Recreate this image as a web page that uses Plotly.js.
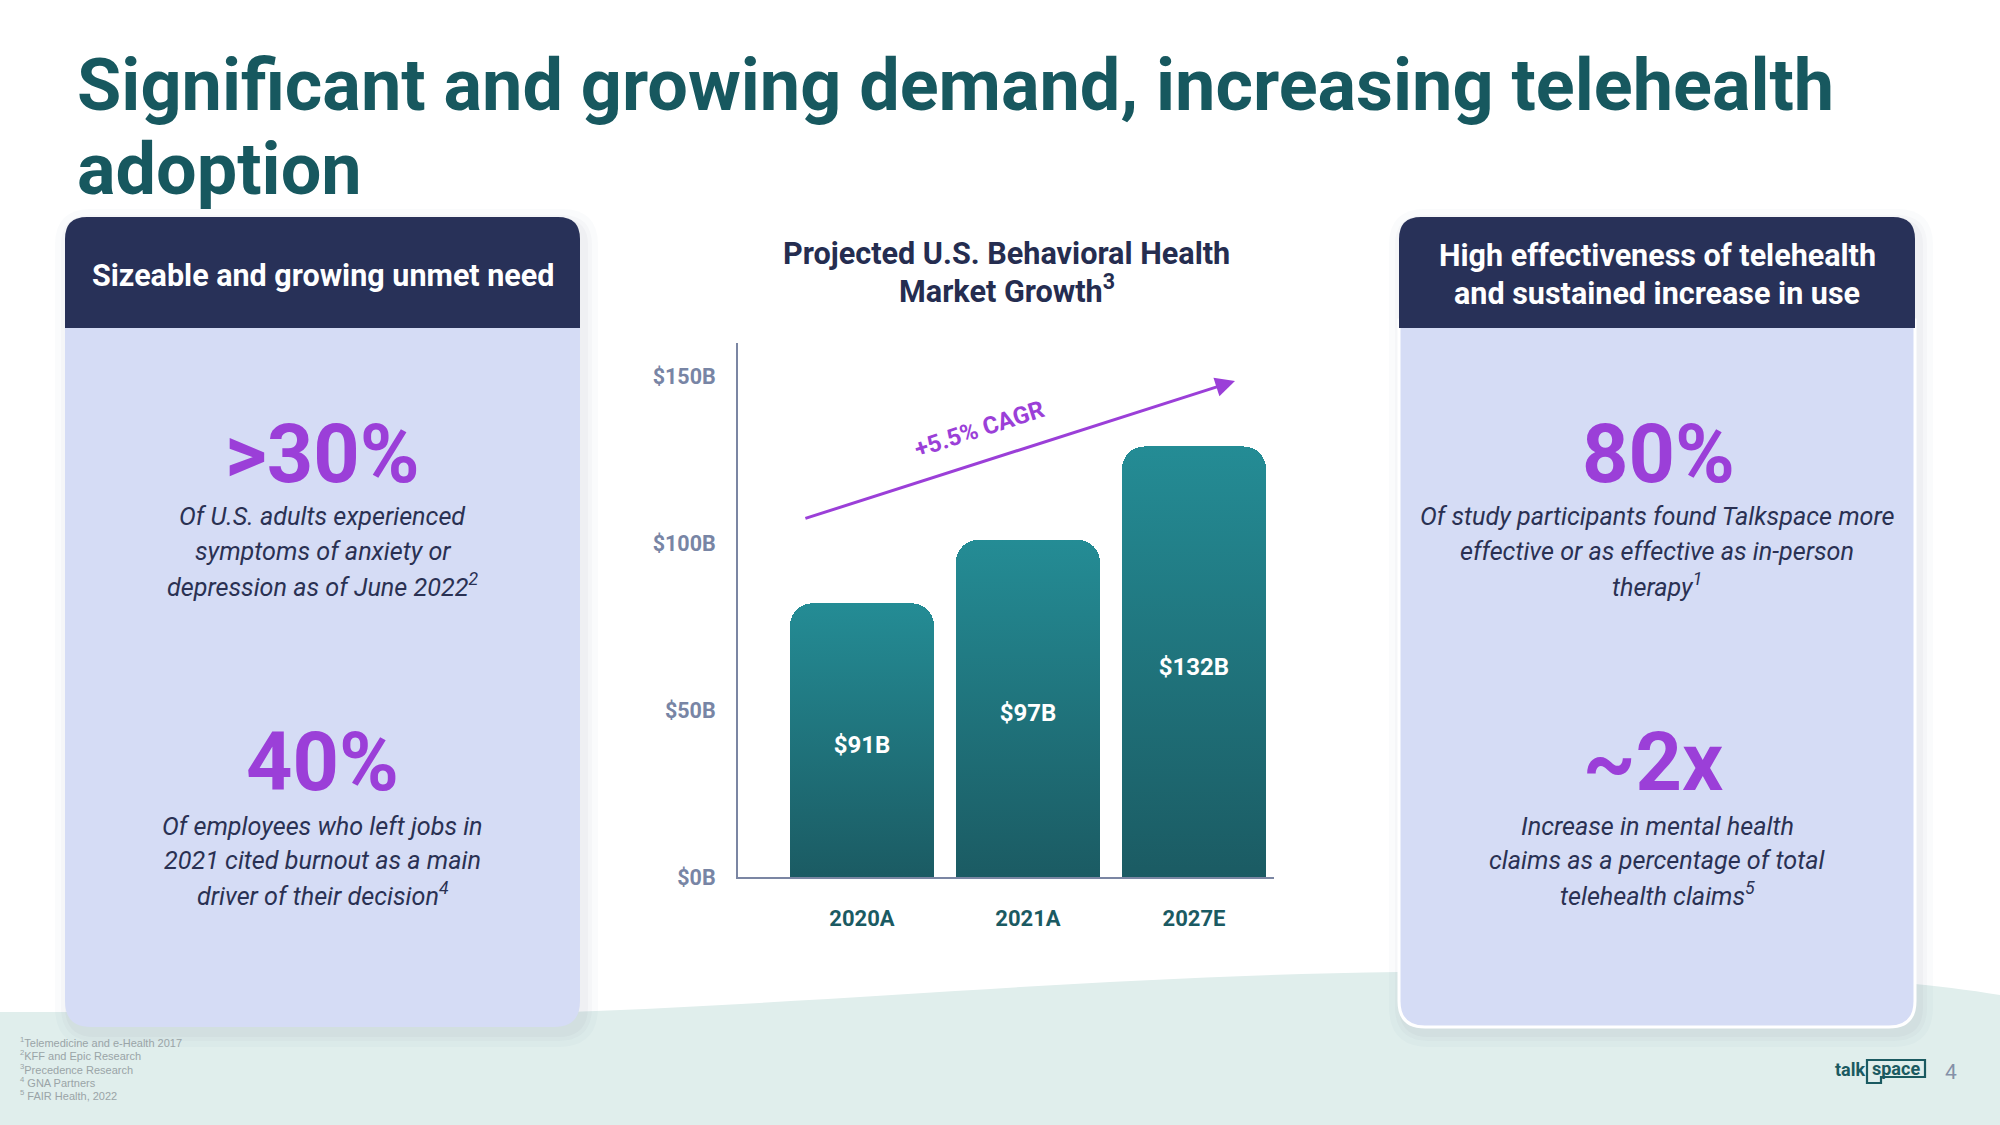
<!DOCTYPE html>
<html>
<head>
<meta charset="utf-8">
<script src="https://cdn.plot.ly/plotly-3.0.1.min.js"></script>
<style>
  html, body { margin: 0; padding: 0; background: #ffffff; }
  #chart { width: 2000px; height: 1125px; }
</style>
</head>
<body>
<div id="chart"></div>
<script>
// ---------------- DATA ----------------
const categories = ['2020A', '2021A', '2027E'];
const barValues = [82, 101, 129];            // bar heights as drawn against the axis
const barLabels = ['$91B', '$97B', '$132B'];  // printed values
const yTickVals = [0, 50, 100, 150];
const yTickText = ['$0B', '$50B', '$100B', '$150B'];
const cagrLabel = '+5.5% CAGR';

const pageTitle = ['Significant and growing demand, increasing telehealth', 'adoption'];
const chartTitle = ['Projected U.S. Behavioral Health', 'Market Growth<sup>3</sup>'];

const leftHeader = ['Sizeable and growing unmet need'];
const leftStats = ['&gt;30%', '40%'];
const leftDescs = [
  ['Of U.S. adults experienced', 'symptoms of anxiety or', 'depression as of June 2022<sup>2</sup>'],
  ['Of employees who left jobs in', '2021 cited burnout as a main', 'driver of their decision<sup>4</sup>']
];
const rightHeader = ['High effectiveness of telehealth', 'and sustained increase in use'];
const rightStats = ['80%', '~2x'];
const rightDescs = [
  ['Of study participants found Talkspace more', 'effective or as effective as in-person', 'therapy<sup>1</sup>'],
  ['Increase in mental health', 'claims as a percentage of total', 'telehealth claims<sup>5</sup>']
];
const footnotes = [
  '<sup>1</sup>Telemedicine and e-Health 2017',
  '<sup>2</sup>KFF and Epic Research',
  '<sup>3</sup>Precedence Research',
  '<sup>4</sup> GNA Partners',
  '<sup>5</sup> FAIR Health, 2022'
];
const pageNumber = '4';

// ---------------- HELPERS ----------------
const W = 2000, H = 1125;
const px = x => x / W;
const py = y => 1 - y / H;
const FONT = 'Roboto, "Open Sans", sans-serif';
const TEAL = '#17585F';
const NAVY = '#283158';
const PURPLE = '#9B3FD8';
const BODY = '#D5DCF5';
const DESC = '#2A3153';

function rrPath(x0, y0, x1, y1, rt, rb) {
  const p = [];
  p.push('M' + px(x0) + ',' + py(y0 + rt));
  p.push('Q' + px(x0) + ',' + py(y0) + ' ' + px(x0 + rt) + ',' + py(y0));
  p.push('L' + px(x1 - rt) + ',' + py(y0));
  p.push('Q' + px(x1) + ',' + py(y0) + ' ' + px(x1) + ',' + py(y0 + rt));
  p.push('L' + px(x1) + ',' + py(y1 - rb));
  p.push('Q' + px(x1) + ',' + py(y1) + ' ' + px(x1 - rb) + ',' + py(y1));
  p.push('L' + px(x0 + rb) + ',' + py(y1));
  p.push('Q' + px(x0) + ',' + py(y1) + ' ' + px(x0) + ',' + py(y1 - rb));
  p.push('Z');
  return p.join(' ');
}
function pathFromPts(cmds) {
  return cmds.map(c => {
    const L = c[0];
    const nums = [];
    for (let i = 1; i < c.length; i += 2) nums.push(px(c[i]) + ',' + py(c[i + 1]));
    return L + nums.join(' ');
  }).join(' ') + ' Z';
}

const shapes = [];
const annotations = [];

function txt(text, x, y, size, color, opts) {
  opts = opts || {};
  annotations.push({
    xref: 'paper', yref: 'paper', x: px(x), y: py(y),
    xanchor: opts.xanchor || 'center', yanchor: 'middle',
    text: text, showarrow: false,
    font: { family: opts.family || FONT, size: size, color: color,
            weight: opts.weight || 'normal', style: opts.style || 'normal' },
    align: opts.xanchor === 'left' ? 'left' : 'center'
  });
}

// ---------- background wave ----------
shapes.push({
  type: 'path', xref: 'paper', yref: 'paper', layer: 'below',
  path: pathFromPts([
    ['M', 0, 1012], ['L', 570, 1012],
    ['C', 880, 1000, 1100, 976, 1400, 972],
    ['C', 1650, 968, 1860, 972, 2000, 995],
    ['L', 2000, 1125], ['L', 0, 1125]
  ]),
  fillcolor: '#E0EEEC', line: { width: 0 }
});

// ---------- cards ----------
function card(x0, x1, border) {
  [[14, 0.022], [8, 0.028], [4, 0.032]].forEach(s => {
    shapes.push({ type: 'path', xref: 'paper', yref: 'paper', layer: 'below',
      path: rrPath(x0 - s[0] + 4, 217 - s[0] + 6, x1 + s[0] + 4, 1027 + s[0] + 6, 22 + s[0], 26 + s[0]),
      fillcolor: 'rgba(60,70,110,' + s[1] + ')', line: { width: 0 } });
  });
  shapes.push({ type: 'path', xref: 'paper', yref: 'paper', layer: 'below',
    path: rrPath(x0, 320, x1, 1027, 0, 26),
    fillcolor: BODY, line: border ? { color: '#FFFFFF', width: 3 } : { width: 0 } });
  shapes.push({ type: 'path', xref: 'paper', yref: 'paper', layer: 'below',
    path: rrPath(x0, 217, x1, 328, 22, 0),
    fillcolor: NAVY, line: { width: 0 } });
}
card(65, 580, false);
card(1399, 1915, true);

// ---------- page title ----------
txt(pageTitle[0], 75, 86, 72, TEAL, { xanchor: 'left', weight: 'bold' });
txt(pageTitle[1], 75, 169, 72, TEAL, { xanchor: 'left', weight: 'bold' });

// ---------- card text ----------
const LCX = 322.5, RCX = 1657;
txt(leftHeader[0], LCX, 275, 30.5, '#FFFFFF', { weight: 'bold' });
txt(rightHeader[0], RCX, 256, 30.5, '#FFFFFF', { weight: 'bold' });
txt(rightHeader[1], RCX, 293, 30.5, '#FFFFFF', { weight: 'bold' });

const statY = [455, 762];
const rightStatX = [RCX + 1, RCX - 4];
const descY = [[517, 551, 585], [826, 860, 894]];
[0, 1].forEach(i => {
  txt(leftStats[i], LCX, statY[i], 81, PURPLE, { weight: 'bold' });
  txt(rightStats[i], rightStatX[i], statY[i], 81, PURPLE, { weight: 'bold' });
  leftDescs[i].forEach((l, j) => txt(l, LCX, descY[i][j], 25.2, DESC, { style: 'italic' }));
  rightDescs[i].forEach((l, j) => txt(l, RCX, descY[i][j], 25.2, DESC, { style: 'italic' }));
});

// ---------- chart title ----------
txt(chartTitle[0], 1007, 253, 30.6, '#252D50', { weight: 'bold' });
txt(chartTitle[1], 1007, 289, 30.6, '#252D50', { weight: 'bold' });

// ---------- CAGR arrow + label (data coords) ----------
annotations.push({
  xref: 'x', yref: 'y', axref: 'x', ayref: 'y',
  x: 2.247, y: 148.6, ax: -0.35, ay: 107.3,
  text: '', showarrow: true, arrowhead: 2, arrowsize: 1.3, arrowwidth: 3,
  arrowcolor: PURPLE, standoff: 0, startstandoff: 0
});
annotations.push({
  xref: 'x', yref: 'y', x: 0.71, y: 134.3, text: cagrLabel, showarrow: false,
  textangle: -18, xanchor: 'center', yanchor: 'middle',
  font: { family: FONT, size: 24, color: PURPLE, weight: 'bold' }
});

// ---------- footnotes ----------
const fnY = [1042, 1055, 1068.5, 1082, 1095];
footnotes.forEach((f, i) => txt(f, 18, fnY[i], 11, '#9AA4A7',
  { xanchor: 'left', family: '"Liberation Sans", Arial, sans-serif' }));

// ---------- logo + page number ----------
shapes.push({ type: 'path', xref: 'paper', yref: 'paper', layer: 'above',
  path: pathFromPts([['M', 1867, 1060], ['L', 1925, 1060], ['L', 1925, 1077], ['L', 1881, 1077], ['L', 1881, 1083], ['L', 1867, 1083]]),
  fillcolor: 'rgba(0,0,0,0)', line: { color: '#1B5A61', width: 2.2 } });
txt('talk', 1867, 1069, 18, '#1B5A61', { xanchor: 'right', weight: 'bold' });
txt('space', 1896, 1068, 18, '#1B5A61', { weight: 'bold' });
txt(pageNumber, 1951, 1072, 21, '#8590A8');

// ---------------- TRACE ----------------
const data = [{
  type: 'bar', x: categories, y: barValues, text: barLabels,
  textposition: 'inside', insidetextanchor: 'middle', constraintext: 'none',
  textfont: { family: FONT, size: 24, color: '#FFFFFF', weight: 'bold' },
  width: 0.867,
  marker: { color: '#1F747C', cornerradius: 22, line: { width: 0 } },
  hoverinfo: 'skip'
}];

const layout = {
  width: W, height: H,
  margin: { l: 0, r: 0, t: 0, b: 0 },
  paper_bgcolor: '#FFFFFF', plot_bgcolor: 'rgba(0,0,0,0)',
  showlegend: false, bargap: 0,
  xaxis: {
    domain: [px(738), px(1274)], type: 'category', range: [-0.747, 2.482],
    showline: true, linecolor: '#7B86A3', linewidth: 2, ticks: '',
    ticklabelstandoff: 21, showgrid: false, zeroline: false, fixedrange: true,
    tickfont: { family: FONT, size: 22, color: '#1B5A62', weight: 'bold' }
  },
  yaxis: {
    domain: [py(877), py(343)], range: [0, 160],
    tickvals: yTickVals, ticktext: yTickText,
    showline: true, linecolor: '#7B86A3', linewidth: 2, ticks: '',
    ticklabelstandoff: 16, showgrid: false, zeroline: false, fixedrange: true,
    tickfont: { family: FONT, size: 21.5, color: '#7885A5', weight: 'bold' }
  },
  shapes: shapes,
  annotations: annotations
};

const gd = document.getElementById('chart');
Plotly.newPlot(gd, data, layout, { staticPlot: true, displayModeBar: false }).then(() => {
  const svg = gd.querySelector('svg.main-svg');
  const ns = 'http://www.w3.org/2000/svg';
  let defs = svg.querySelector('defs');
  if (!defs) { defs = document.createElementNS(ns, 'defs'); svg.insertBefore(defs, svg.firstChild); }
  const g = document.createElementNS(ns, 'linearGradient');
  g.setAttribute('id', 'barGrad');
  g.setAttribute('x1', '0'); g.setAttribute('y1', '0');
  g.setAttribute('x2', '0'); g.setAttribute('y2', '1');
  [['0', '#248C95'], ['1', '#1B5B63']].forEach(s => {
    const st = document.createElementNS(ns, 'stop');
    st.setAttribute('offset', s[0]); st.setAttribute('stop-color', s[1]);
    g.appendChild(st);
  });
  defs.appendChild(g);
  gd.querySelectorAll('.barlayer .point path').forEach(p => { p.style.fill = 'url(#barGrad)'; });
  gd.querySelectorAll('.barlayer .point text').forEach(t => {
    const tr = t.getAttribute('transform') || '';
    t.setAttribute('transform', tr + ' translate(0,5)');
  });
});
</script>
</body>
</html>
